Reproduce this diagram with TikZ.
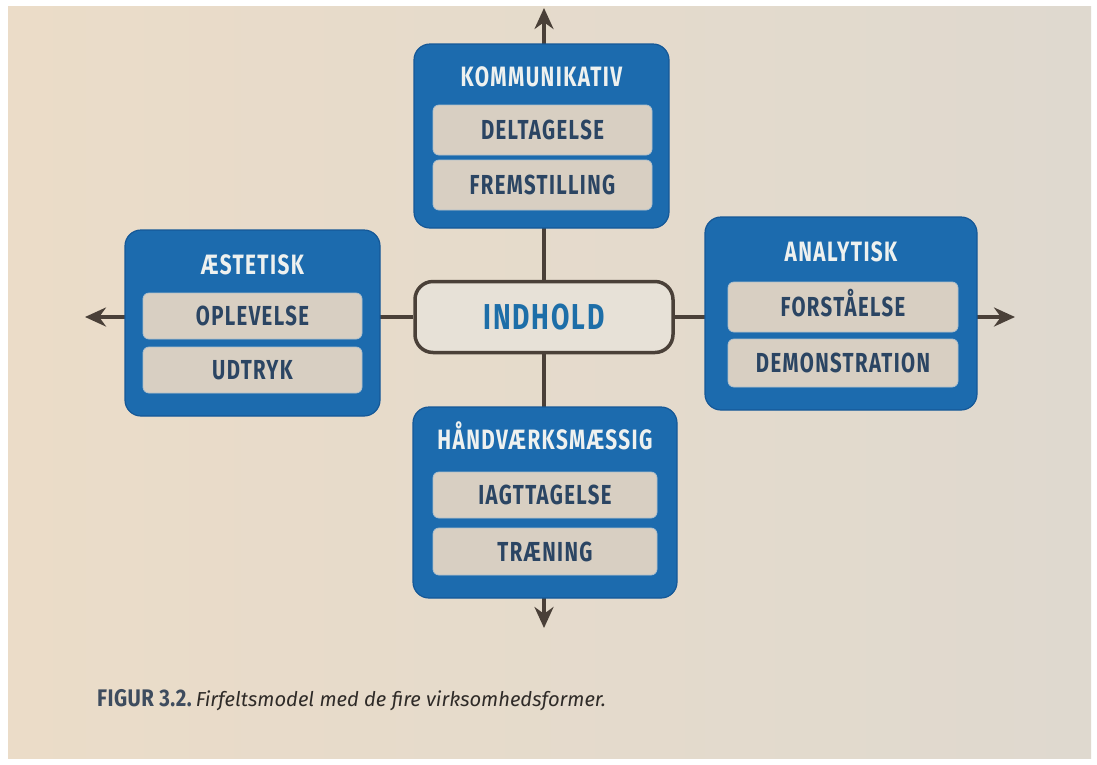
\documentclass[tikz,border=0pt]{standalone}
\usepackage{fontspec}
\setmainfont{Fira Sans}
\newfontfamily\cond{Fira Sans}[FakeStretch=0.74, LetterSpace=5]
\newfontfamily\capcond{Fira Sans}[FakeStretch=0.85, LetterSpace=2]
\usetikzlibrary{arrows.meta}
\pgfdeclarelayer{paper}
\pgfdeclarelayer{bg}
\pgfsetlayers{paper,bg,main}
\definecolor{boxblue}{HTML}{1C6BAE}
\definecolor{boxedge}{HTML}{155897}
\definecolor{subfill}{HTML}{D8CFC2}
\definecolor{subedge}{HTML}{AFC0CC}
\definecolor{subtext}{HTML}{2B4563}
\definecolor{titlewhite}{HTML}{EEF1EF}
\definecolor{connc}{HTML}{4A4038}
\definecolor{indfill}{HTML}{E7E1D7}
\definecolor{indtext}{HTML}{1D6EA8}
\definecolor{paperL}{HTML}{EBDCC8}
\definecolor{paperR}{HTML}{DFD9CF}
\definecolor{capblue}{HTML}{3E4C5E}
\definecolor{captext}{HTML}{2F2B28}
\tikzset{
  bluebox/.style 2 args={draw=boxedge, fill=boxblue, line width=1.2pt, rounded corners=16pt,
    inner sep=0pt, minimum width=#1, minimum height=#2},
  titletxt/.style={font=\cond\bfseries\fontsize{28}{28}\selectfont, text=titlewhite,
    inner sep=0pt, text height=19.3pt, text depth=0pt},
  subbox/.style 2 args={draw=subedge, fill=subfill, rounded corners=6pt, line width=0.8pt,
    minimum width=#1, minimum height=#2, inner sep=0pt, text height=19pt, text depth=0pt,
    font=\cond\bfseries\fontsize{27.5}{27.5}\selectfont, text=subtext},
  centerbox/.style={draw=connc, fill=indfill, line width=3.5pt, rounded corners=18pt,
    minimum width=258pt, minimum height=71pt, inner sep=0pt, text height=24.8pt, text depth=0pt,
    font=\cond\bfseries\fontsize{36}{36}\selectfont, text=indtext},
  conn/.style={draw=connc, line width=3.5pt, -{Stealth[length=21pt,width=19pt]}}
}
\begin{document}
\begin{tikzpicture}[x=1pt,y=-1pt]
\useasboundingbox (0,0) rectangle (1097,764);
\begin{pgfonlayer}{paper}
  \fill[white] (0,0) rectangle (1097,764);
  \shade[left color=paperL, right color=paperR] (8,6) rectangle (1091,758);
\end{pgfonlayer}

% centre
\node[centerbox] (ind) at (544,317) {INDHOLD};

% Kommunikativ
\node[bluebox={255pt}{184pt}] (komm) at (541.5,136) {};
\node[titletxt] (kommt) at (541.5,77) {KOMMUNIKATIV};
\node[subbox={219pt}{50pt}] (delt) at (542.5,130) {DELTAGELSE};
\node[subbox={219pt}{50pt}] (frem) at (542.5,185) {FREMSTILLING};

% Aestetisk
\node[bluebox={255pt}{186pt}] (aest) at (252.5,323) {};
\node[titletxt] (aestt) at (252.5,265) {ÆSTETISK};
\node[subbox={219pt}{46pt}] (oplev) at (252.5,316) {OPLEVELSE};
\node[subbox={219pt}{46pt}] (udtr) at (252.5,370) {UDTRYK};

% Analytisk
\node[bluebox={272pt}{193pt}] (anal) at (841,313.5) {};
\node[titletxt] (analt) at (841,252) {ANALYTISK};
\node[subbox={230pt}{50pt}] (forst) at (843,307) {FORSTÅELSE};
\node[subbox={230pt}{48pt}] (demo) at (843,363) {DEMONSTRATION};

% Haandvaerksmaessig
\node[bluebox={264pt}{191pt}] (haand) at (545,502.5) {};
\node[titletxt] (haandt) at (545,440) {HÅNDVÆRKSMÆSSIG};
\node[subbox={224pt}{46pt}] (iagt) at (545,495) {IAGTTAGELSE};
\node[subbox={224pt}{47pt}] (traen) at (545,551.5) {TRÆNING};

% arrow tips
\coordinate (ttop) at (544,8);
\coordinate (tbot) at (544,628);
\coordinate (tleft) at (85,317);
\coordinate (tright) at (1015,317);

\begin{pgfonlayer}{bg}
  \draw[conn] (ind.north) -- (ttop);
  \draw[conn] (ind.south) -- (tbot);
  \draw[conn] (ind.west) -- (tleft);
  \draw[conn] (ind.east) -- (tright);
\end{pgfonlayer}

% caption
\node[anchor=base west, inner sep=0pt, text=captext] (cap) at (97,706)
  {{\capcond\bfseries\fontsize{24}{24}\selectfont\color{capblue}FIGUR 3.2.}\hspace{4pt}{\itshape\fontsize{20.2}{20.2}\selectfont Firfeltsmodel med de fire virksomhedsformer.}};
\end{tikzpicture}
\end{document}
